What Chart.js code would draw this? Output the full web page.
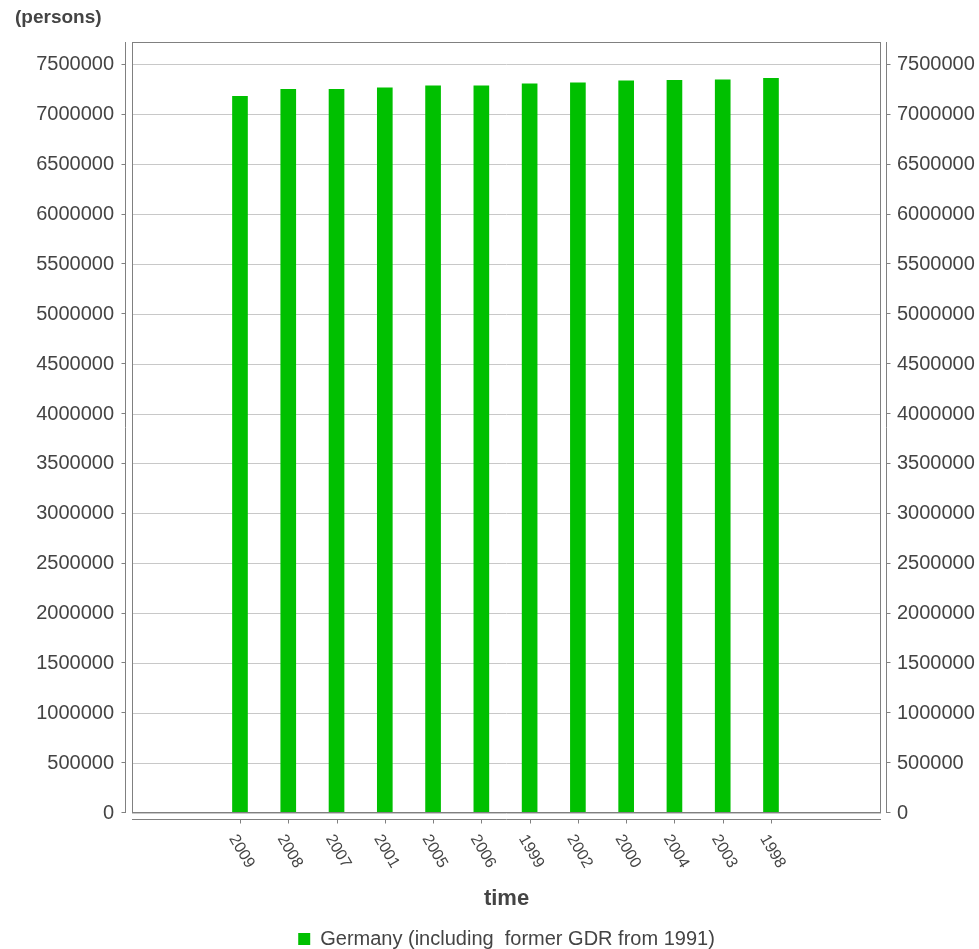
<!DOCTYPE html>
<html>
<head>
<meta charset="utf-8">
<script src="https://cdn.jsdelivr.net/npm/chart.js@4.4.0/dist/chart.umd.min.js"></script>
<style>
  html, body { margin: 0; padding: 0; background: #fff; }
  #wrap { width: 979px; height: 949px; }
</style>
</head>
<body>
<div id="wrap"><canvas id="grafico" width="979" height="949"></canvas></div>
<script>
// ======== DADOS ========
const anos = ['2009', '2008', '2007', '2001', '2005', '2006', '1999', '2002', '2000', '2004', '2003', '1998'];
const pessoas = [7185000, 7255000, 7255000, 7270000, 7290000, 7290000, 7310000, 7320000, 7340000, 7345000, 7350000, 7365000];
const marcasY = [0, 500000, 1000000, 1500000, 2000000, 2500000, 3000000, 3500000,
  4000000, 4500000, 5000000, 5500000, 6000000, 6500000, 7000000, 7500000];
const serieNome = 'Germany (including  former GDR from 1991)';
const unidade = '(persons)';
const eixoX = 'time';
const yMax = 7730000;

const fonte = "'Liberation Sans', Arial, sans-serif";
const corTexto = '#444444';
const corEixo = '#808080';

// ======== EIXOS DESENHADOS A MAO ========
const eixosPlugin = {
  id: 'eixos',
  afterDraw(chart) {
    const { ctx, chartArea: a } = chart;
    const y = chart.scales.y;
    const x = chart.scales.x;
    ctx.save();
    ctx.strokeStyle = corEixo;
    ctx.lineWidth = 1;

    // moldura do grafico
    ctx.strokeRect(a.left + 0.5, a.top + 0.5, a.right - a.left - 1, a.bottom - a.top - 1);

    // eixo esquerdo e direito
    const xe = a.left - 6.5;
    const xd = a.right + 5.5;
    ctx.beginPath();
    ctx.moveTo(xe, a.top); ctx.lineTo(xe, a.bottom);
    ctx.moveTo(xd, a.top); ctx.lineTo(xd, a.bottom);
    y.ticks.forEach(t => {
      const py = Math.round(y.getPixelForValue(t.value)) - 0.5;
      ctx.moveTo(xe - 4, py); ctx.lineTo(xe, py);
      ctx.moveTo(xd, py); ctx.lineTo(xd + 4, py);
    });
    ctx.stroke();

    // eixo de baixo
    const yb = a.bottom + 6.5;
    ctx.beginPath();
    ctx.moveTo(a.left, yb); ctx.lineTo(a.right, yb);
    anos.forEach((_, i) => {
      const px = Math.round(x.getPixelForValue(i)) + 0.5;
      ctx.moveTo(px, yb); ctx.lineTo(px, yb + 4);
    });
    ctx.stroke();

    // rotulos dos anos, girados
    ctx.fillStyle = corTexto;
    ctx.font = '16px ' + fonte;
    ctx.textAlign = 'left';
    ctx.textBaseline = 'middle';
    anos.forEach((ano, i) => {
      const px = x.getPixelForValue(i);
      ctx.save();
      ctx.translate(px - 7.3, a.bottom + 23);
      ctx.rotate(60 * Math.PI / 180);
      ctx.fillText(ano, 0, 0);
      ctx.restore();
    });

    // unidade no topo
    ctx.font = 'bold 19px ' + fonte;
    ctx.textBaseline = 'middle';
    ctx.fillText(unidade, 15, 18);
    ctx.restore();
  }
};

const ticksY = (pad) => ({
  padding: pad,
  color: corTexto,
  font: { family: fonte, size: 20 },
  callback: v => String(v)
});
const usarMarcas = s => { s.ticks = marcasY.map(v => ({ value: v })); };

// ======== GRAFICO ========
const ctx = document.getElementById('grafico').getContext('2d');
new Chart(ctx, {
  type: 'bar',
  data: {
    datasets: [{
      label: serieNome,
      data: anos.map((_, i) => ({ x: i, y: pessoas[i] })),
      backgroundColor: '#00c000',
      borderWidth: 0,
      barThickness: 15
    }]
  },
  options: {
    responsive: false,
    animation: false,
    devicePixelRatio: 1,
    layout: { padding: { top: 42, left: 0, right: 0, bottom: -10 } },
    plugins: {
      tooltip: { enabled: false },
      legend: {
        position: 'bottom',
        fullSize: false,
        labels: {
          font: { family: fonte, size: 20 },
          color: corTexto,
          boxWidth: 12,
          boxHeight: 12,
          padding: 0
        }
      }
    },
    scales: {
      x: {
        type: 'linear',
        offset: false,
        min: -2.237,
        max: 13.279,
        grid: { display: false, offset: false },
        border: { display: false },
        ticks: { display: false },
        title: {
          display: true,
          text: eixoX,
          color: corTexto,
          font: { family: fonte, size: 22, weight: 'bold' },
          padding: { top: 0, bottom: 17 }
        },
        afterFit: s => { s.height = 116; }
      },
      y: {
        position: 'left',
        min: 0,
        max: yMax,
        grid: { color: '#c8c8c8', drawTicks: false },
        border: { display: false },
        ticks: ticksY(18),
        afterBuildTicks: usarMarcas,
        afterFit: s => { s.width = 132; }
      },
      y2: {
        position: 'right',
        min: 0,
        max: yMax,
        grid: { display: false, drawTicks: false },
        border: { display: false },
        ticks: ticksY(16),
        afterBuildTicks: usarMarcas,
        afterFit: s => { s.width = 98; }
      }
    }
  },
  plugins: [eixosPlugin]
});
</script>
</body>
</html>
